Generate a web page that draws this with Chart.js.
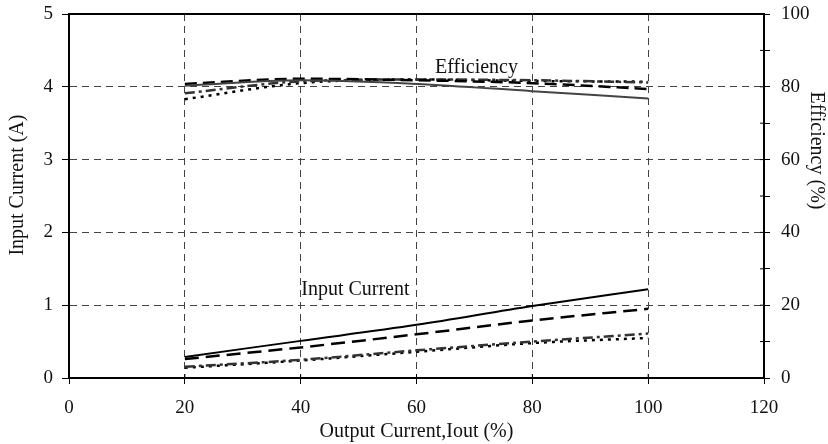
<!DOCTYPE html>
<html><head><meta charset="utf-8">
<script src="https://cdn.jsdelivr.net/npm/chart.js@4/dist/chart.umd.min.js"></script>
<style>html,body{margin:0;padding:0;background:#fff;} canvas{display:block;}</style>
</head><body>
<canvas id="c" width="828" height="444"></canvas>
<script>
// ---- data ----
const outputCurrent = [20, 40, 60, 80, 100];
const currentA = [0.29, 0.51, 0.73, 0.99, 1.22];
const currentB = [0.26, 0.42, 0.60, 0.79, 0.95];
const currentC = [0.155, 0.25, 0.38, 0.50, 0.61];
const currentD = [0.14, 0.24, 0.36, 0.48, 0.55];
const effA = [80.3, 81.8, 80.8, 78.8, 76.8];
const effB = [80.8, 82.2, 81.8, 81.0, 79.4];
const effC = [78.2, 81.5, 82.0, 81.8, 81.2];
const effD = [76.6, 81.0, 82.0, 81.6, 81.4];
const xTickValues = [0, 20, 40, 60, 80, 100, 120];
const leftTickValues = [0, 1, 2, 3, 4, 5];
const rightTickValues = [0, 20, 40, 60, 80, 100];
const labelTexts = ['Efficiency', 'Input Current'];
const leftTitle = 'Input Current (A)';
const rightTitle = 'Efficiency (%)';

const FONT = "'Liberation Serif', 'Times New Roman', serif";
const pts = (ys) => outputCurrent.map((x, i) => ({x: x, y: ys[i]}));

function ds(data, axis, color, dash, width) {
  return {data: pts(data), yAxisID: axis, borderColor: color, borderDash: dash,
    borderWidth: width, pointRadius: 0, fill: false, tension: 0.3, cubicInterpolationMode: 'monotone'};
}

const labelPlugin = {
  id: 'labels',
  afterDatasetsDraw(chart) {
    const ctx = chart.ctx, xs = chart.scales.x, yl = chart.scales.y, yr = chart.scales.y2;
    ctx.save();
    ctx.font = "20px " + FONT;
    ctx.fillStyle = '#111';
    ctx.textBaseline = 'middle';
    ctx.textAlign = 'left';
    ctx.fillText(labelTexts[0], xs.getPixelForValue(63.2), yr.getPixelForValue(85.2));
    ctx.fillText(labelTexts[1], xs.getPixelForValue(40.1), yl.getPixelForValue(1.21));
    // axis titles
    ctx.textAlign = 'center';
    ctx.save();
    ctx.translate(yl.left + 18, yl.getPixelForValue(2.65));
    ctx.rotate(-Math.PI / 2);
    ctx.fillText(leftTitle, 0, 0);
    ctx.restore();
    ctx.save();
    ctx.translate(yr.right - 12, yr.getPixelForValue(62.5));
    ctx.rotate(Math.PI / 2);
    ctx.fillText(rightTitle, 0, 0);
    ctx.restore();
    // frame + inward ticks
    const a = chart.chartArea;
    ctx.strokeStyle = '#000';
    ctx.lineWidth = 2;
    ctx.strokeRect(a.left, a.top, a.right - a.left, a.bottom - a.top);
    ctx.lineWidth = 1;
    ctx.beginPath();
    xTickValues.forEach(v => { const p = xs.getPixelForValue(v); ctx.moveTo(p, a.bottom); ctx.lineTo(p, a.bottom - 4); });
    for (let v = 0; v <= 100; v += 10) { const p = yr.getPixelForValue(v); ctx.moveTo(a.right, p); ctx.lineTo(a.right - 4, p); }
    ctx.stroke();
    ctx.restore();
  }
};

function fitVertical(width) {
  return (s) => { s.width = width; s.paddingTop = 0; s.paddingBottom = 0; };
}

new Chart(document.getElementById('c'), {
  type: 'line',
  data: {
    datasets: [
      ds(currentA, 'y', '#000', [], 2),
      ds(currentB, 'y', '#000', [14, 7], 2.5),
      ds(currentC, 'y', '#333', [10, 4, 3, 4], 2.5),
      ds(currentD, 'y', '#000', [3, 5], 2.5),
      ds(effA, 'y2', '#444', [], 2),
      ds(effB, 'y2', '#000', [12, 6], 2.5),
      ds(effC, 'y2', '#333', [10, 4, 3, 4], 2.5),
      ds(effD, 'y2', '#000', [3, 5], 2.5)
    ]
  },
  options: {
    responsive: false,
    animation: false,
    events: [],
    layout: {padding: {top: 14, left: 0, right: 0, bottom: 0}},
    plugins: {legend: {display: false}, tooltip: {enabled: false}, title: {display: false}},
    scales: {
      x: {
        type: 'linear', min: 0, max: 120,
        afterBuildTicks: (s) => { s.ticks = xTickValues.map(v => ({value: v})); },
        afterFit: (s) => { s.height = 66; s.paddingLeft = 0; s.paddingRight = 0; },
        ticks: {color: '#111', font: {family: FONT, size: 19}, padding: 13, maxRotation: 0},
        grid: {
          color: (c) => (c.tick && (c.tick.value === 0 || c.tick.value === 120)) ? 'rgba(0,0,0,0)' : '#444',
          lineWidth: 1, tickLength: 6, tickColor: '#000', drawTicks: true
        },
        border: {display: true, color: '#000', width: 2, dash: [7, 5]},
        title: {display: true, text: 'Output Current,Iout (%)', color: '#111', font: {family: FONT, size: 20}, padding: {top: 0, bottom: 0}}
      },
      y: {
        position: 'left', min: 0, max: 5,
        afterBuildTicks: (s) => { s.ticks = leftTickValues.map(v => ({value: v})); },
        afterFit: fitVertical(69),
        ticks: {color: '#111', font: {family: FONT, size: 19}, padding: 9},
        grid: {
          color: (c) => (c.tick && (c.tick.value === 0 || c.tick.value === 5)) ? 'rgba(0,0,0,0)' : '#444',
          lineWidth: 1, tickLength: 7, tickColor: '#000'
        },
        border: {display: true, color: '#000', width: 2, dash: [7, 5]},
        title: {display: false}
      },
      y2: {
        position: 'right', min: 0, max: 100,
        afterBuildTicks: (s) => { const t = []; for (let v = 0; v <= 100; v += 10) t.push({value: v}); s.ticks = t; },
        afterFit: fitVertical(64),
        ticks: {color: '#111', font: {family: FONT, size: 19}, padding: 11,
          callback: (v) => rightTickValues.includes(v) ? String(v) : ''},
        grid: {drawOnChartArea: false, tickLength: 6, tickColor: '#000', lineWidth: 1},
        border: {display: true, color: '#000', width: 2},
        title: {display: false}
      }
    }
  },
  plugins: [labelPlugin]
});
</script>
</body></html>
